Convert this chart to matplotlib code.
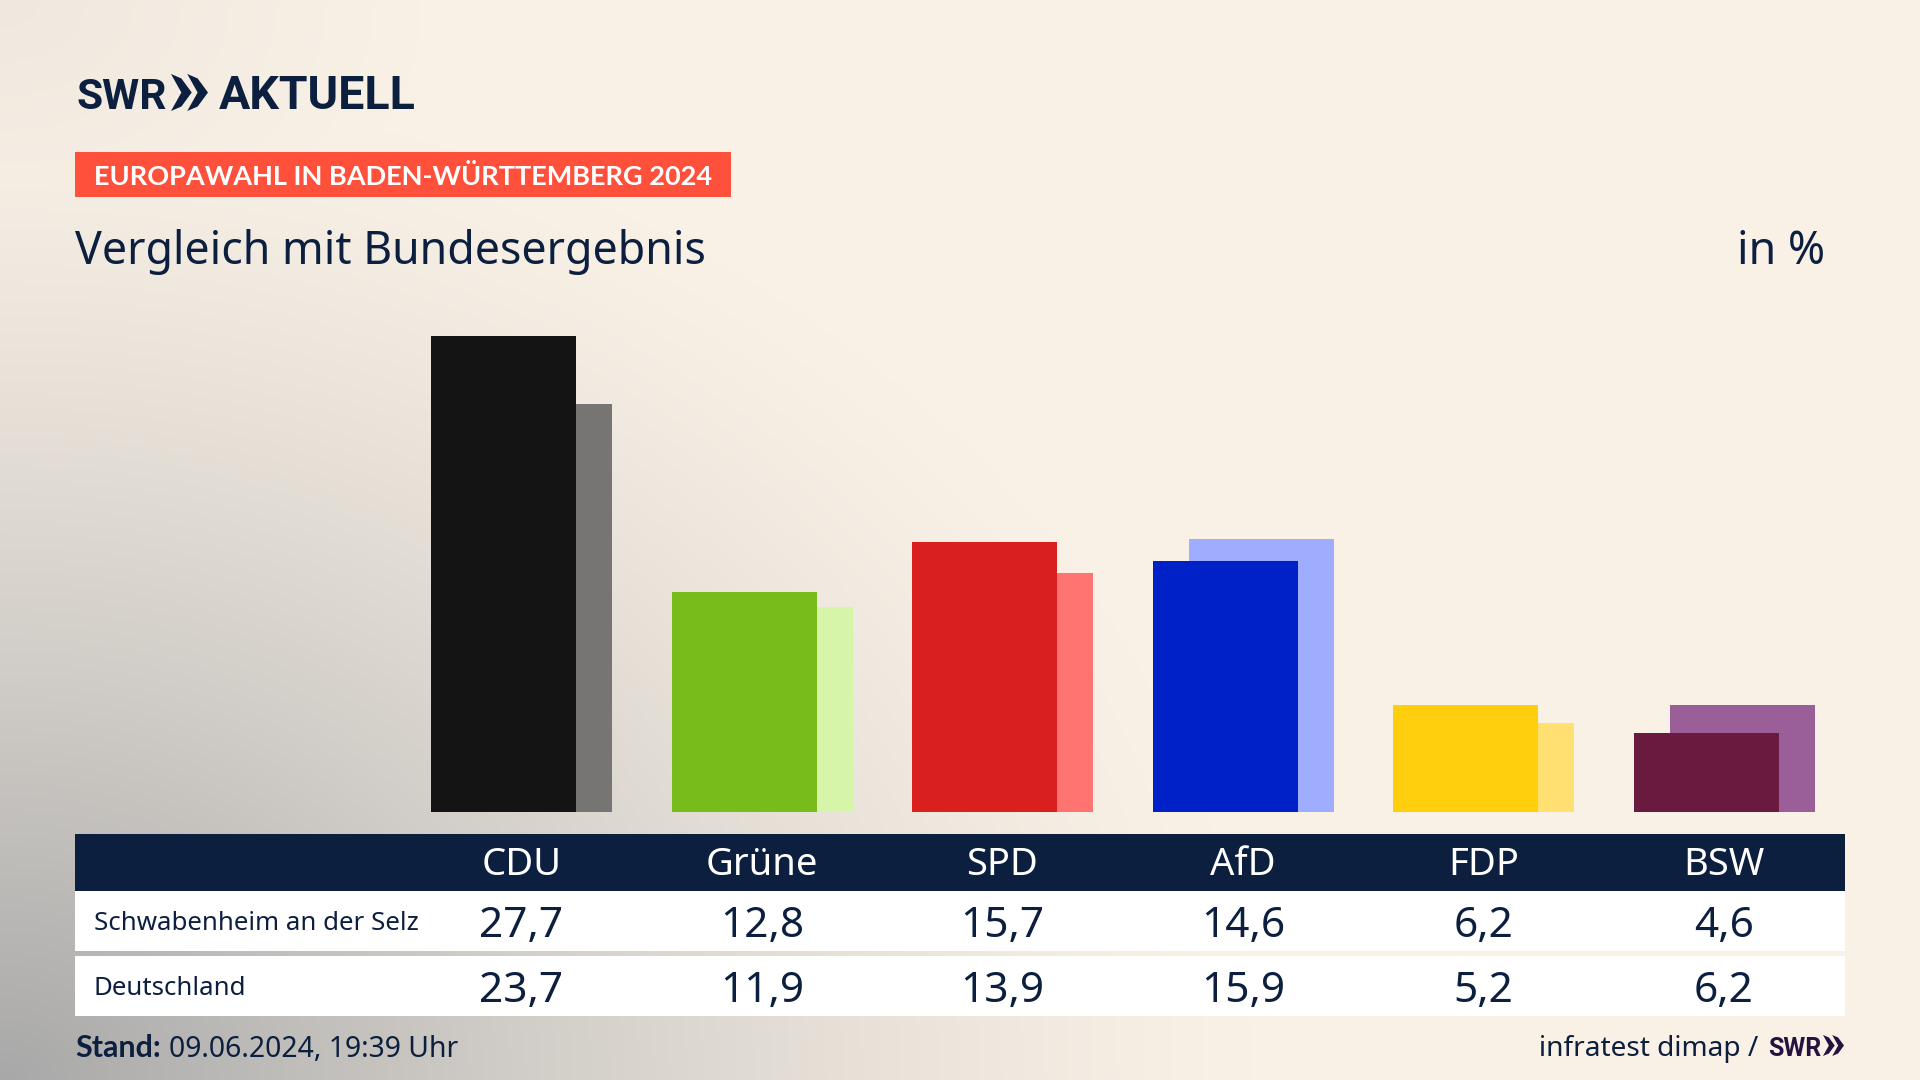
import numpy as np
import matplotlib
matplotlib.use("Agg")
import matplotlib.pyplot as plt
from matplotlib.patches import Rectangle, Polygon

parties = ['CDU', 'Grüne', 'SPD', 'AfD', 'FDP', 'BSW']
gemeinde = [27.7, 12.8, 15.7, 14.6, 6.2, 4.6]
bund = [23.7, 11.9, 13.9, 15.9, 5.2, 6.2]
col_gemeinde = ['#141414', '#78bc1b', '#d9201f', '#0021c8', '#ffce0c', '#6b1a3f']
col_bund = ['#777573', '#d6f5a8', '#ff7470', '#9fadff', '#ffe070', '#9a5f98']
row_names = ['Schwabenheim an der Selz', 'Deutschland']

navy = '#0c1f3f'
plt.rcParams['font.family'] = ['Noto Sans', 'DejaVu Sans']
bold_font = 'Lato'
logo_font = 'Roboto'

W, H = 1920, 1080
fig = plt.figure(figsize=(W / 100, H / 100), dpi=100)

# alles ausser den Balken in Pixelkoordinaten
bg = fig.add_axes([0, 0, 1, 1])
bg.set_xlim(0, W)
bg.set_ylim(H, 0)
bg.axis('off')

# Hintergrund: creme, grauer Verlauf von unten links
xx, yy = np.meshgrid(np.arange(0, W, 4), np.arange(0, H, 4))
d = np.sqrt((xx / 1250) ** 2 + ((H - yy) / 1000) ** 2)
t = np.clip(1 - d, 0, 1) ** 1.3
d2 = np.sqrt((xx / 420) ** 2 + (yy / 300) ** 2)
t = np.maximum(t, 0.12 * np.clip(1 - d2, 0, 1))
cream = np.array([249, 241, 230]) / 255
grey = np.array([168, 168, 168]) / 255
img = cream[None, None, :] * (1 - t[..., None]) + grey[None, None, :] * t[..., None]
bg.imshow(img, extent=[0, W, H, 0], aspect='auto', zorder=0)
bg.set_xlim(0, W)
bg.set_ylim(H, 0)


def chevrons(x0, x1, y0, y1, color):
    w = (x1 - x0) * 0.56
    st = (x1 - x0) - w
    th = w * 0.5
    ym = (y0 + y1) / 2
    for x in (x0, x0 + st):
        bg.add_patch(Polygon([(x, y0), (x + th, y0 + (y1 - y0) * 0.12), (x + w, ym),
                              (x + th, y1 - (y1 - y0) * 0.12), (x, y1), (x + w - th, ym)],
                             closed=True, fc=color, ec='none', zorder=3))


# Kopf
bg.text(76, 109, 'SWR', fontsize=30.5, fontweight='bold', family=logo_font, color=navy, va='baseline', zorder=3)
chevrons(171, 208, 74, 111, navy)
bg.text(219, 109, 'AKTUELL', fontsize=33.5, fontweight='bold', family=logo_font, color=navy, va='baseline', zorder=3)
bg.add_patch(Rectangle((75, 152), 656, 45, fc='#ff503c', ec='none', zorder=2))
bg.text(94, 185, 'EUROPAWAHL IN BADEN-WÜRTTEMBERG 2024', fontsize=19.5, fontweight='bold', family=bold_font,
        color='white', va='baseline', zorder=3)
bg.text(75, 264, 'Vergleich mit Bundesergebnis', fontsize=32.2, color=navy, va='baseline', zorder=3)
bg.text(1825, 264, 'in %', fontsize=32.2, color=navy, ha='right', va='baseline', zorder=3)

# Balken
cx0, dx = 521.5, 240.5
px_per_unit = 17.2
base = 812
top = base - 30 * px_per_unit
left = cx0 - dx / 2
ax = fig.add_axes([left / W, (H - base) / H, 6 * dx / W, (base - top) / H])
ax.patch.set_alpha(0)
ax.set_xlim(-0.5, 5.5)
ax.set_ylim(0, 30)
ax.axis('off')
x = np.arange(len(parties))
bw = 145 / dx
off = 18 / dx
ax.bar(x + off, bund, width=bw, color=col_bund, zorder=1)
ax.bar(x - off, gemeinde, width=bw, color=col_gemeinde, zorder=2)

# Tabelle
bg.add_patch(Rectangle((75, 834), 1770, 57, fc=navy, ec='none', zorder=2))
bg.add_patch(Rectangle((75, 891), 1770, 60, fc='white', ec='none', zorder=2))
bg.add_patch(Rectangle((75, 956), 1770, 60, fc='white', ec='none', zorder=2))
centers = cx0 + dx * x
for cx, p, a, b in zip(centers, parties, gemeinde, bund):
    bg.text(cx, 875, p, fontsize=27.5, color='white', ha='center', va='baseline', zorder=3)
    bg.text(cx, 937, f'{a:.1f}'.replace('.', ','), fontsize=30.5, color=navy, ha='center', va='baseline', zorder=3)
    bg.text(cx, 1002, f'{b:.1f}'.replace('.', ','), fontsize=30.5, color=navy, ha='center', va='baseline', zorder=3)
bg.text(94, 930, row_names[0], fontsize=18.6, color=navy, va='baseline', zorder=3)
bg.text(94, 995, row_names[1], fontsize=18.6, color=navy, va='baseline', zorder=3)

# Fuss
bg.text(75, 1057, 'Stand:', fontsize=22, fontweight='bold', family=bold_font, color=navy, va='baseline', zorder=3)
bg.text(169, 1057, '09.06.2024, 19:39 Uhr', fontsize=20.4, color=navy, va='baseline', zorder=3)
bg.text(1758, 1056, 'infratest dimap /', fontsize=20.2, color=navy, ha='right', va='baseline', zorder=3)
bg.text(1768, 1056, 'SWR', fontsize=18, fontweight='bold', family=logo_font, color='#25123f', va='baseline', zorder=3)
chevrons(1823, 1844, 1035, 1056, '#25123f')

fig.savefig('out.png', dpi=100)
